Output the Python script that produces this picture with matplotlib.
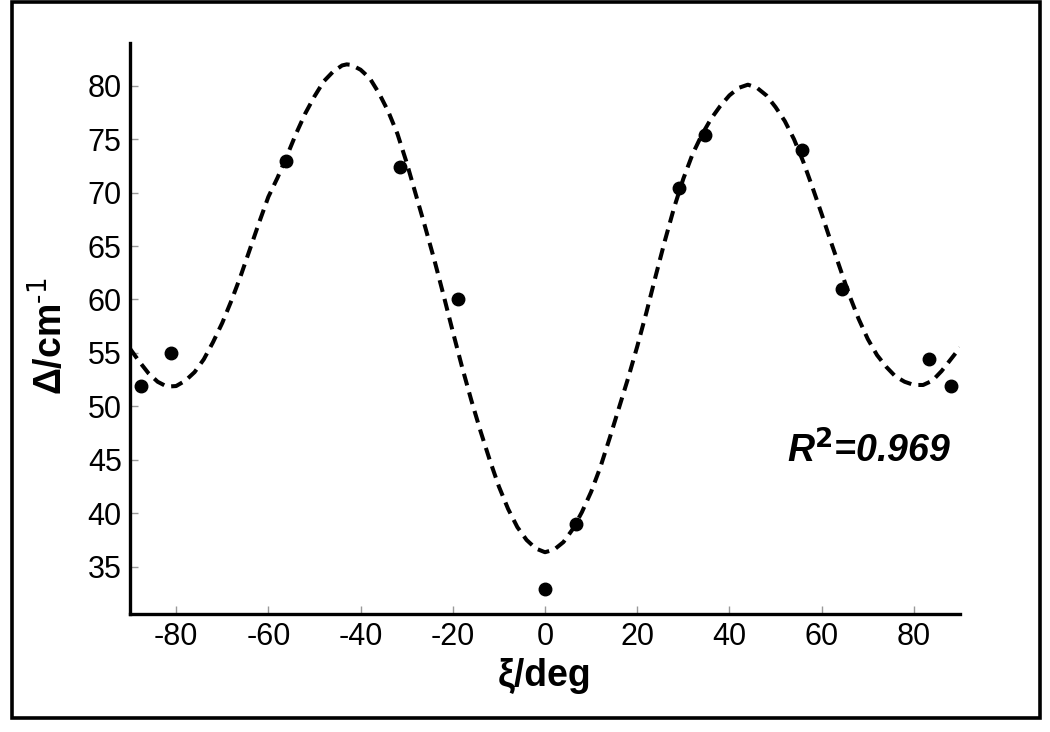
import matplotlib
matplotlib.use("Agg")
import matplotlib.pyplot as plt
from matplotlib.patches import Rectangle

plt.rcParams['font.family'] = ['Liberation Sans', 'DejaVu Sans']
plt.rcParams['axes.unicode_minus'] = False

# measured data points
xi_obs = [-87.7, -81.0, -56.1, -31.4, -18.8, 0.0, 6.7, 29.0, 34.8, 55.8, 64.5, 83.3, 88.1]
delta_obs = [51.9, 55.0, 73.0, 72.4, 60.0, 32.9, 38.95, 70.4, 75.4, 74.0, 61.0, 54.4, 51.9]

# fitted curve
fit_x = [-90, -88, -86, -84, -82, -80, -78, -76, -74, -72, -70, -68, -66, -64, -62, -60,
         -58, -56, -54, -52, -50, -48, -46, -44, -43, -42, -40, -38, -36, -34, -32, -30,
         -28, -26, -24, -22, -20, -18, -16, -14, -12, -10, -8, -6, -4, -2, 0,
         2, 4, 6, 8, 10, 12, 14, 16, 18, 20, 22, 24, 26, 28, 30, 32, 34, 36, 38, 40, 42,
         44, 46, 48, 50, 52, 54, 56, 58, 60, 62, 64, 66, 68, 70, 72, 74, 76, 78, 80, 82,
         84, 86, 88, 90]
fit_y = [55.4, 54.2, 53.1, 52.3, 51.85, 51.9, 52.4, 53.2, 54.4, 56.0, 57.8, 59.9, 62.2,
         64.7, 67.2, 69.6, 71.4, 73.4, 75.5, 77.4, 79.0, 80.4, 81.3, 81.9, 82.0, 81.95,
         81.5, 80.7, 79.3, 77.6, 75.5, 72.8, 69.8, 66.8, 63.7, 60.4, 57.0, 53.7, 50.6,
         47.7, 45.0, 42.5, 40.4, 38.7, 37.5, 36.7, 36.35,
         36.6, 37.3, 38.5, 40.1, 42.0, 44.3, 47.0, 49.8, 52.6, 55.6, 58.8, 62.2, 65.5,
         68.6, 71.3, 73.6, 75.4, 76.9, 78.1, 79.1, 79.8,
         80.1, 79.8, 79.1, 78.0, 76.7, 75.0, 72.9, 70.5, 68.0, 65.4, 62.9, 60.4, 58.2,
         56.3, 54.8, 53.7, 52.8, 52.3, 52.0, 52.0, 52.4, 53.3, 54.4, 55.5]

x_ticks = [-80, -60, -40, -20, 0, 20, 40, 60, 80]
y_ticks = [35, 40, 45, 50, 55, 60, 65, 70, 75, 80]

fig = plt.figure(figsize=(10.5, 7.32), dpi=100)
ax = fig.add_axes([130/1050, 118/732, 830/1050, 571/732])

ax.plot(fit_x, fit_y, color='black', lw=2.9, ls=(0, (3.0, 1.8)), zorder=2,
        solid_joinstyle='round')
ax.plot(xi_obs, delta_obs, 'o', color='black', ms=9, zorder=3)

ax.set_xlim(-90, 90)
ax.set_ylim(30.57, 84.0)
ax.set_xticks(x_ticks)
ax.set_yticks(y_ticks)
ax.tick_params(direction='in', length=6, width=1, color='#999999', labelsize=22, pad=6)

for s in ['top', 'right']:
    ax.spines[s].set_visible(False)
for s in ['left', 'bottom']:
    ax.spines[s].set_linewidth(2.4)

ax.set_xlabel('ξ/deg', fontsize=27, fontweight='bold', labelpad=4)
ax.set_ylabel('Δ/cm$^{\\text{-1}}$', fontsize=27, fontweight='bold')
ax.yaxis.set_label_coords(-0.072, 0.487)

ax.text(70.2, 44.75, 'R$^{\\mathbf{2}}$=0.969', fontsize=27, fontweight='bold', style='italic',
        ha='center', va='baseline')

fig.patches.append(Rectangle((11.5/1050, 14.5/732), (1040 - 11.5)/1050, (730.5 - 14.5)/732,
                             transform=fig.transFigure, fill=False, lw=2.6, ec='black'))

fig.savefig('out.png', dpi=100)
